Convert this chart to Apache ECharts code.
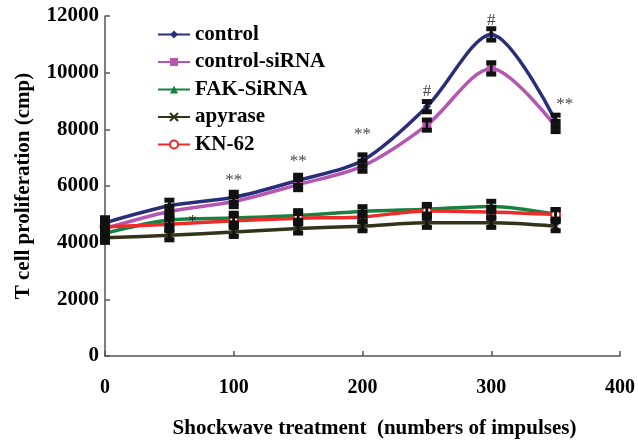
<!DOCTYPE html>
<html>
<head>
<meta charset="utf-8">
<script src="https://cdn.jsdelivr.net/npm/echarts@6/dist/echarts.min.js"></script>
<style>
  html, body { margin: 0; padding: 0; background: #fff; }
  #chart { width: 638px; height: 444px; }
</style>
</head>
<body>
<div id="chart"></div>
<script>
// impulses on the x axis
const xValues = [0, 50, 100, 150, 200, 250, 300, 350]
// T cell proliferation (cmp)
const control = [4700, 5300, 5600, 6200, 6900, 8800, 11350, 8300]
const controlSiRNA = [4500, 5100, 5450, 6050, 6700, 8150, 10150, 8100]
const fakSiRNA = [4330, 4800, 4870, 4960, 5100, 5180, 5280, 5000]
const apyrase = [4170, 4260, 4380, 4500, 4580, 4700, 4700, 4580]
const kn62 = [4560, 4650, 4770, 4860, 4910, 5120, 5080, 4990]
// error bar half heights
const controlErr = [180, 200, 180, 180, 200, 180, 200, 200]
const controlSiRNAErr = [180, 180, 180, 180, 180, 180, 200, 180]
const fakSiRNAErr = [170, 170, 170, 170, 170, 170, 180, 170]
const apyraseErr = [160, 160, 160, 160, 160, 160, 160, 160]
const kn62Err = [170, 170, 170, 170, 170, 170, 170, 170]
// significance marks
const annoX = [68, 100, 150, 200, 250, 300, 357]
const annoY = [4760, 6200, 6880, 7800, 9350, 11850, 8880]
const annoText = ['*', '**', '**', '**', '#', '#', '**']

const serif = 'Liberation Serif'

let chart = echarts.init(document.getElementById('chart'))

// 组装 [x, y] 数据
function pairs(ys) {
  return xValues.map((x, i) => [x, ys[i]])
}
function errData(ys, errs) {
  return xValues.map((x, i) => [x, ys[i], errs[i]])
}

// 误差棒
function errorSeries(ys, errs) {
  return {
    type: 'custom',
    z: 4,
    silent: true,
    data: errData(ys, errs),
    renderItem: (params, api) => {
      let x = api.value(0)
      let y = api.value(1)
      let e = api.value(2)
      let top = api.coord([x, y + e])
      let bot = api.coord([x, y - e])
      let w = 10
      return {
        type: 'group',
        children: [
          {
            type: 'line',
            shape: { x1: top[0], y1: top[1], x2: bot[0], y2: bot[1] },
            style: { stroke: '#111', lineWidth: 2.5 }
          },
          {
            type: 'rect',
            shape: { x: top[0] - w / 2, y: top[1] - 2.5, width: w, height: 5 },
            style: { fill: '#111' }
          },
          {
            type: 'rect',
            shape: { x: bot[0] - w / 2, y: bot[1] - 2.5, width: w, height: 5 },
            style: { fill: '#111' }
          }
        ]
      }
    }
  }
}

function lineSeries(name, ys, color, symbol, size, extra) {
  return Object.assign({
    name: name,
    type: 'line',
    z: 3,
    smooth: 0.3,
    data: pairs(ys),
    symbol: symbol,
    symbolSize: size,
    lineStyle: { color: color, width: 3.5 },
    itemStyle: { color: color }
  }, extra || {})
}

let option = {
  animation: false,
  backgroundColor: '#fff',
  grid: { left: 105, right: 18, top: 16, bottom: 85 },
  legend: {
    left: 152,
    top: 19,
    orient: 'vertical',
    itemWidth: 32,
    itemHeight: 10,
    itemGap: 6.5,
    data: ['control', 'control-siRNA', 'FAK-SiRNA', 'apyrase', 'KN-62'],
    textStyle: { fontFamily: serif, fontWeight: 'bold', fontSize: 21, color: '#000', lineHeight: 21 }
  },
  xAxis: {
    type: 'value',
    min: 0,
    max: 400,
    interval: 100,
    name: 'Shockwave treatment  (numbers of impulses)',
    nameLocation: 'middle',
    nameGap: 62,
    nameTextStyle: { fontFamily: serif, fontWeight: 'bold', fontSize: 21, color: '#000', padding: [0, 0, 0, 24] },
    axisLine: { lineStyle: { color: '#555', width: 1.5 } },
    axisTick: { inside: true, length: 5, lineStyle: { color: '#555', width: 1.5 } },
    axisLabel: { fontFamily: serif, fontWeight: 'bold', fontSize: 20, color: '#000', margin: 22 },
    splitLine: { show: false }
  },
  yAxis: {
    type: 'value',
    min: 0,
    max: 12000,
    interval: 2000,
    name: 'T cell proliferation (cmp)',
    nameLocation: 'middle',
    nameGap: 71,
    nameTextStyle: { fontFamily: serif, fontWeight: 'bold', fontSize: 21, color: '#000' },
    axisLine: { show: true, lineStyle: { color: '#555', width: 1.5 } },
    axisTick: { show: true, inside: true, length: 5, lineStyle: { color: '#555', width: 1.5 } },
    axisLabel: {
      fontFamily: serif, fontWeight: 'bold', fontSize: 21, color: '#000', margin: 6,
      formatter: v => String(v)
    },
    splitLine: { show: false }
  },
  series: [
    lineSeries('control', control, '#2a2d78', 'diamond', 8),
    lineSeries('control-siRNA', controlSiRNA, '#b556b1', 'rect', 9),
    lineSeries('FAK-SiRNA', fakSiRNA, '#17823f', 'triangle', 9),
    lineSeries('apyrase', apyrase, '#33331a', 'path://M0,0L10,10M10,0L0,10', 9, {
      itemStyle: { color: '#33331a', borderColor: '#33331a', borderWidth: 2 }
    }),
    lineSeries('KN-62', kn62, '#ee2b2b', 'emptyCircle', 9, {
      itemStyle: { color: '#ee2b2b', borderColor: '#ee2b2b', borderWidth: 1.5 }
    }),
    errorSeries(control, controlErr),
    errorSeries(controlSiRNA, controlSiRNAErr),
    errorSeries(fakSiRNA, fakSiRNAErr),
    errorSeries(apyrase, apyraseErr),
    errorSeries(kn62, kn62Err),
    {
      // 显著性标记
      type: 'scatter',
      z: 6,
      silent: true,
      symbol: 'circle',
      symbolSize: 1,
      itemStyle: { color: 'rgba(0,0,0,0)' },
      data: annoX.map((x, i) => ({ value: [x, annoY[i]], name: annoText[i] })),
      label: {
        show: true,
        position: 'inside',
        formatter: p => p.name,
        fontFamily: serif,
        fontSize: 17,
        color: '#111'
      }
    }
  ]
}

chart.setOption(option)
</script>
</body>
</html>
